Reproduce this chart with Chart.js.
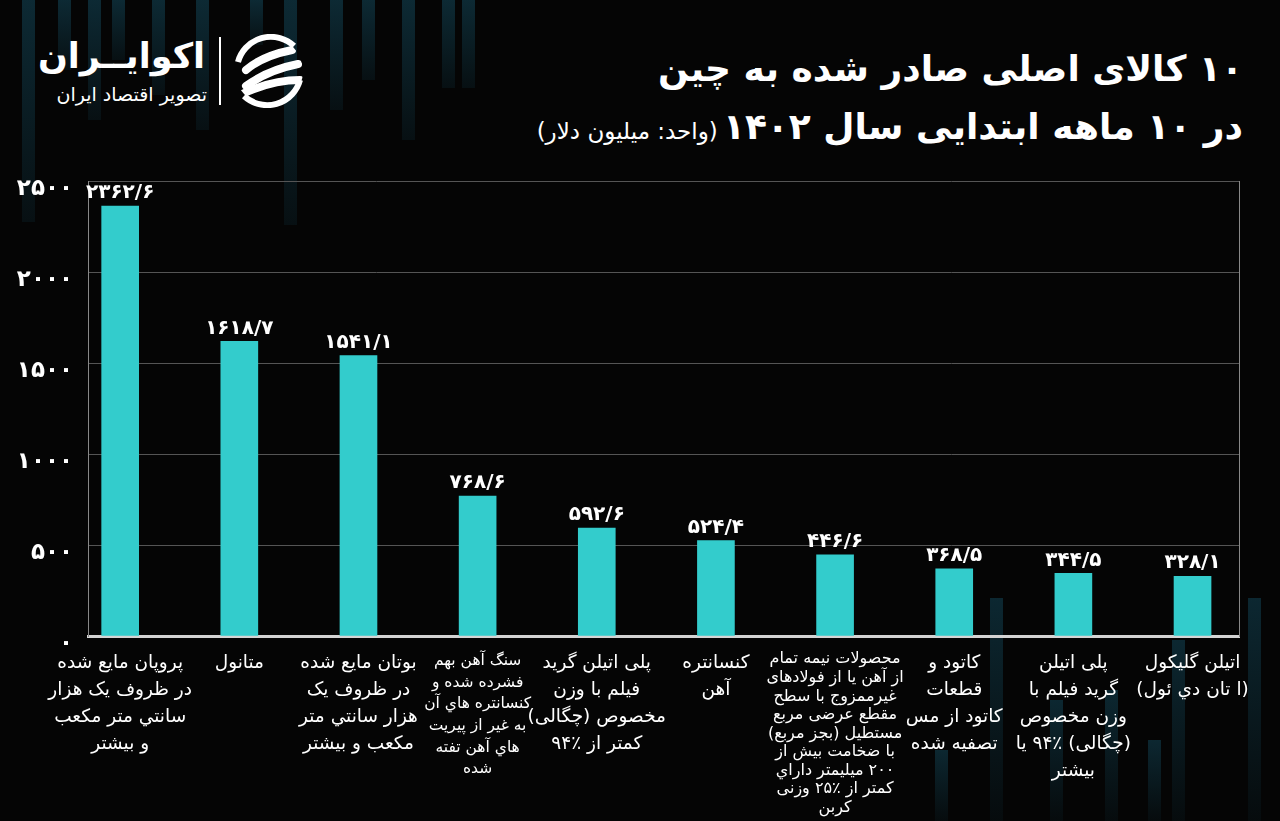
<!DOCTYPE html>
<html lang="fa">
<head>
<meta charset="utf-8">
<script src="https://cdn.jsdelivr.net/npm/chart.js@4.4.1/dist/chart.umd.min.js"></script>
<style>
html,body{margin:0;padding:0;background:#050505;width:1280px;height:821px;overflow:hidden;}
#wrap{position:relative;width:1280px;height:821px;background:#050505;}
.st{position:absolute;width:13px;background:linear-gradient(to bottom,rgba(14,48,60,0.85),rgba(14,48,60,0.25));}
.sb{position:absolute;width:13px;background:linear-gradient(to top,rgba(14,48,60,0.15),rgba(14,48,60,0.8));}
canvas{position:absolute;left:0;top:0;}
.t{position:absolute;color:#fff;font-family:"DejaVu Sans",sans-serif;direction:rtl;white-space:nowrap;}
</style>
</head>
<body>
<div id="wrap">
  <div class="st" style="left:22px;top:0;height:222px"></div>
  <div class="st" style="left:58px;top:0;height:70px"></div>
  <div class="st" style="left:88px;top:0;height:120px"></div>
  <div class="st" style="left:112px;top:0;height:60px"></div>
  <div class="st" style="left:152px;top:0;height:95px"></div>
  <div class="st" style="left:196px;top:0;height:130px"></div>
  <div class="st" style="left:250px;top:0;height:45px"></div>
  <div class="st" style="left:284px;top:0;height:225px"></div>
  <div class="st" style="left:330px;top:0;height:110px"></div>
  <div class="st" style="left:362px;top:0;height:80px"></div>
  <div class="st" style="left:402px;top:0;height:140px"></div>
  <div class="st" style="left:442px;top:0;height:88px"></div>
  <div class="st" style="left:462px;top:0;height:88px"></div>
  <div class="sb" style="left:990px;top:598px;height:223px"></div>
  <div class="sb" style="left:1050px;top:700px;height:121px"></div>
  <div class="sb" style="left:1105px;top:690px;height:131px"></div>
  <div class="sb" style="left:1172px;top:640px;height:181px"></div>
  <div class="sb" style="left:1248px;top:598px;height:223px"></div>
  <div class="sb" style="left:1148px;top:740px;height:81px"></div>
  <div class="sb" style="left:935px;top:750px;height:71px"></div>

  <!-- logo -->
  <div class="t" style="right:1075px;top:36px;font-size:35px;font-weight:bold;">اکوایــران</div>
  <div class="t" style="right:1073px;top:83px;font-size:19px;">تصویر اقتصاد ایران</div>
  <div style="position:absolute;left:219px;top:37px;width:2px;height:68px;background:#fff;"></div>
  <svg style="position:absolute;left:232px;top:34px" width="74" height="74" viewBox="0 0 74 74">
    <defs><clipPath id="cc"><circle cx="37" cy="37" r="34"/></clipPath></defs>
    <path d="M 62 12 A 34 34 0 0 0 6 28" stroke="#fff" stroke-width="6" fill="none"/>
    <path d="M 12 62 A 34 34 0 0 0 68 46" stroke="#fff" stroke-width="6" fill="none"/>
    <g clip-path="url(#cc)" stroke="#fff" stroke-width="8" stroke-linecap="round" fill="none">
      <path d="M 14 36 Q 30 22 60 16"/>
      <path d="M 14 52 Q 36 36 66 30"/>
      <path d="M 10 60 Q 40 46 68 46"/>
    </g>
  </svg>

  <!-- title -->
  <div class="t" style="right:37px;top:48px;font-size:36px;font-weight:bold;">۱۰ کالای اصلی صادر شده به چین</div>
  <div class="t" style="right:37px;top:106px;"><span style="font-size:36px;font-weight:bold;">در ۱۰ ماهه ابتدایی سال ۱۴۰۲</span> <span style="font-size:23px;">(واحد: میلیون دلار)</span></div>

  <canvas id="c" width="1280" height="821" dir="rtl"></canvas>
</div>
<script>
const categories = [
  ["پروپان مایع شده", "در ظروف یک هزار", "سانتي متر مكعب", "و بیشتر"],
  ["متانول"],
  ["بوتان مایع شده", "در ظروف یک", "هزار سانتي متر", "مكعب و بیشتر"],
  ["سنگ آهن بهم", "فشرده شده و", "کنسانتره هاي آن", "به غیر از پیریت", "هاي آهن تفته", "شده"],
  ["پلی اتیلن گرید", "فیلم با وزن", "مخصوص (چگالی)", "کمتر از ٪۹۴"],
  ["کنسانتره", "آهن"],
  ["محصولات نیمه تمام", "از آهن یا از فولادهای", "غیرممزوج با سطح", "مقطع عرضی مربع", "مستطیل (بجز مربع)", "با ضخامت بیش از", "۲۰۰ میلیمتر داراي", "کمتر از ٪۲۵ وزنی", "کربن"],
  ["کاتود و", "قطعات", "کاتود از مس", "تصفیه شده"],
  ["پلی اتیلن", "گرید فیلم با", "وزن مخصوص", "(چگالی) ٪۹۴ یا", "بیشتر"],
  ["اتیلن گلیکول", "(ا تان دي ئول)"]
];
const exportValues = [2362.6, 1618.7, 1541.1, 768.6, 592.6, 524.4, 446.6, 368.5, 344.5, 328.1];
const yTickValues = [0, 500, 1000, 1500, 2000, 2500];

const faDigits = '۰۱۲۳۴۵۶۷۸۹';
function toFa(n){ return String(n).replace(/\d/g, d => faDigits[+d]).replace('.', '/'); }

const FONT = '"DejaVu Sans", sans-serif';

const valueLabels = {
  id: 'valueLabels',
  afterDatasetsDraw(chart){
    const ctx = chart.ctx;
    const meta = chart.getDatasetMeta(0);
    ctx.save();
    ctx.fillStyle = '#ffffff';
    ctx.font = 'bold 20px ' + FONT;
    ctx.textAlign = 'center';
    ctx.textBaseline = 'bottom';
    meta.data.forEach((bar, i) => ctx.fillText(toFa(exportValues[i]), bar.x, bar.y - 3));
    ctx.restore();
  }
};

function tickFont(ctx){
  const i = ctx.index;
  if (i === 6) return {family: FONT, size: 16, lineHeight: 1.16};
  if (i === 3) return {family: FONT, size: 15.5, lineHeight: 1.4};
  return {family: FONT, size: 18.5, lineHeight: 1.46};
}

new Chart(document.getElementById('c'), {
  type: 'bar',
  data: {
    datasets: [{
      data: exportValues.map((v, i) => ({x: i, y: v})),
      backgroundColor: '#33cccc',
      borderWidth: 0,
      barThickness: 37
    }]
  },
  options: {
    responsive: false,
    animation: false,
    layout: {padding: {top: 181, right: 41, bottom: 0, left: 0}},
    plugins: {legend: {display: false}, tooltip: {enabled: false}},
    scales: {
      x: {
        type: 'linear',
        offset: false,
        min: -0.27,
        max: 9.39,
        afterBuildTicks: s => { s.ticks = categories.map((_, i) => ({value: i})); },
        afterFit: s => { s.height = 185; },
        grid: {display: false, drawTicks: false, offset: false},
        border: {color: '#d4d4d4', width: 3},
        ticks: {
          color: '#ffffff',
          autoSkip: false,
          maxRotation: 0,
          minRotation: 0,
          padding: 14,
          font: tickFont,
          callback: v => categories[v]
        }
      },
      y: {
        min: 0,
        max: 2500,
        afterBuildTicks: s => { s.ticks = yTickValues.map(v => ({value: v})); },
        afterFit: s => { s.width = 88; },
        grid: {color: '#555555', lineWidth: 1, drawTicks: false},
        border: {color: '#888888', width: 1},
        ticks: {
          color: '#ffffff',
          padding: 15,
          labelOffset: 8,
          font: {family: FONT, size: 23, weight: 'bold'},
          callback: v => toFa(v)
        }
      },
      y2: {
        position: 'right',
        min: 0,
        max: 2500,
        afterFit: s => { s.width = 0; },
        grid: {display: false, drawTicks: false},
        border: {color: '#888888', width: 1},
        ticks: {display: false}
      }
    }
  },
  plugins: [valueLabels]
});
</script>
</body>
</html>
